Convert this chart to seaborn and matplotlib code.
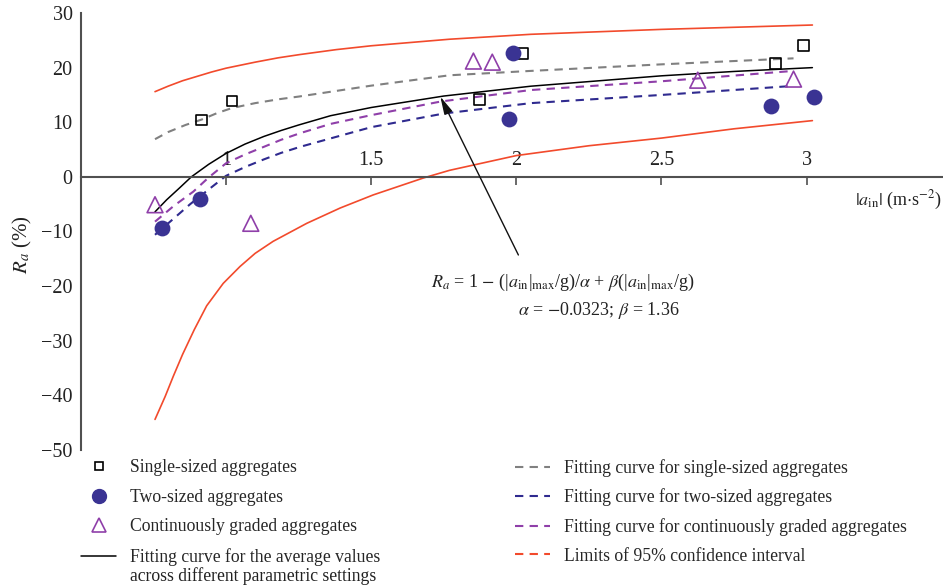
import numpy as np
import pandas as pd
import matplotlib
matplotlib.use('Agg')
import matplotlib.pyplot as plt
from matplotlib.lines import Line2D
import seaborn as sns

# measured points
single_x = [0.914, 1.02, 1.872, 2.02, 2.893, 2.99]
single_y = [10.4, 13.9, 14.1, 22.6, 20.7, 24.0]
two_x = [0.78, 0.91, 1.976, 1.99, 2.876, 3.024]
two_y = [-9.4, -4.0, 10.6, 22.7, 12.9, 14.7]
cont_x = [0.755, 1.085, 1.852, 1.917, 2.625, 2.955]
cont_y = [-5.1, -8.5, 21.2, 21.0, 17.7, 17.9]

# fitted curves
avg_x = [0.755, 0.795, 0.84, 0.88, 0.94, 1.0, 1.065, 1.13, 1.19, 1.25, 1.36, 1.5, 1.75, 2.05, 2.5, 2.75, 3.02]
avg_y = [-6.4, -4.2, -2.0, 0.0, 2.3, 4.3, 6.0, 7.4, 8.5, 9.5, 11.2, 12.7, 14.8, 16.6, 18.5, 19.3, 20.0]
fit_single_x = [0.755, 0.8, 0.86, 0.916, 0.97, 1.02, 1.1, 1.18, 1.25, 1.5, 1.77, 2.05, 2.5, 2.955]
fit_single_y = [6.9, 8.2, 9.5, 10.5, 11.7, 12.6, 13.5, 14.2, 14.7, 16.7, 18.6, 19.4, 20.6, 21.7]
fit_two_x = [0.755, 0.82, 0.876, 0.94, 1.0, 1.065, 1.13, 1.19, 1.255, 1.5, 1.75, 2.05, 2.5, 2.94]
fit_two_y = [-10.6, -7.6, -5.0, -2.3, 0.2, 1.8, 3.2, 4.4, 5.5, 9.1, 11.6, 13.5, 15.0, 16.6]
fit_cont_x = [0.755, 0.82, 0.887, 0.94, 1.0, 1.065, 1.13, 1.19, 1.255, 1.36, 1.5, 1.74, 2.05, 2.5, 2.955]
fit_cont_y = [-8.2, -5.3, -2.7, -0.1, 2.5, 4.1, 5.5, 6.8, 8.0, 9.7, 11.3, 13.8, 15.9, 17.5, 19.4]
ci_up_x = [0.755, 0.8, 0.85, 0.9, 0.95, 1.0, 1.1, 1.18, 1.255, 1.38, 1.5, 1.77, 2.05, 2.5, 3.02]
ci_up_y = [15.6, 16.6, 17.6, 18.4, 19.2, 19.9, 21.0, 21.8, 22.4, 23.3, 24.0, 25.2, 26.1, 27.0, 27.8]
ci_lo_x = [0.755, 0.79, 0.818, 0.85, 0.89, 0.933, 0.99, 1.048, 1.10, 1.162, 1.278, 1.393, 1.507,
           1.68, 1.77, 2.0, 2.25, 2.5, 2.75, 3.02]
ci_lo_y = [-44.4, -40.2, -36.5, -32.5, -28.0, -23.6, -19.5, -16.4, -14.0, -11.8, -8.5, -5.7, -3.3,
           -0.2, 1.2, 3.9, 5.7, 7.1, 8.8, 10.3]

x_ticks = [1, 1.5, 2, 2.5, 3]
x_tick_labels = ['1', '1.5', '2', '2.5', '3']
y_ticks = [-50, -40, -30, -20, -10, 0, 10, 20, 30]
y_tick_labels = ['\u221250', '\u221240', '\u221230', '\u221220', '\u221210', '0', '10', '20', '30']

sns.set_theme(style='white')
plt.rcParams['font.family'] = ['Liberation Serif', 'DejaVu Serif']
plt.rcParams['mathtext.fontset'] = 'stix'

c_gray = '#808080'
c_blue = '#2f2a8f'
c_purple = '#8f3fa9'
c_red = '#f24a2c'
c_dot = '#3a3393'
c_spine = '#505050'

fig = plt.figure(figsize=(9.43, 5.88), dpi=100)
ax = fig.add_axes([81 / 943, 1 - 450 / 588, 1 - 81 / 943, (450 - 13) / 588])

sns.lineplot(x=ci_up_x, y=ci_up_y, color=c_red, lw=1.2, ax=ax)
sns.lineplot(x=ci_lo_x, y=ci_lo_y, color=c_red, lw=1.2, ax=ax)
sns.lineplot(x=fit_single_x, y=fit_single_y, color=c_gray, lw=1.5, linestyle=(0, (4, 3)), ax=ax)
sns.lineplot(x=fit_two_x, y=fit_two_y, color=c_blue, lw=1.5, linestyle=(0, (4, 3)), ax=ax)
sns.lineplot(x=fit_cont_x, y=fit_cont_y, color=c_purple, lw=1.5, linestyle=(0, (4, 3)), ax=ax)
sns.lineplot(x=avg_x, y=avg_y, color='black', lw=1.1, ax=ax)

sns.scatterplot(x=single_x, y=single_y, marker='s', s=60, facecolor='none',
                edgecolor='black', linewidth=1.2, ax=ax, zorder=5)
sns.scatterplot(x=two_x, y=two_y, marker='o', s=130, color=c_dot,
                edgecolor=c_dot, linewidth=0, ax=ax, zorder=5)
sns.scatterplot(x=cont_x, y=cont_y, marker='^', s=130, facecolor='none',
                edgecolor=c_purple, linewidth=1.2, ax=ax, zorder=5)

ax.set_xlim(0.5, 3.47)
ax.set_ylim(-50, 30)

# axes: x spine on y=0, tick labels above it
ax.spines['right'].set_visible(False)
ax.spines['bottom'].set_visible(False)
ax.spines['top'].set_position(('data', 0))
ax.spines['top'].set_color(c_spine)
ax.spines['left'].set_color(c_spine)
ax.spines['top'].set_linewidth(1.5)
ax.spines['left'].set_linewidth(1.5)
ax.xaxis.tick_top()
ax.set_xticks(x_ticks)
ax.set_xticklabels(x_tick_labels)
ax.set_yticks(y_ticks)
ax.set_yticklabels(y_tick_labels)
ax.tick_params(axis='x', direction='in', length=6, width=1.2, color=c_spine,
               labelsize=14.5, pad=5, labelcolor='#222222')
ax.tick_params(axis='y', direction='in', length=6.5, width=1.2, color=c_spine,
               labelsize=14.5, pad=6, labelcolor='#222222')
ax.set_xlabel('')
ax.set_ylabel('')
ax.grid(False)

ax.text(3.465, -2.2, r'$|a_{\mathrm{in}}|$ (m$\cdot$s$^{-2}$)', ha='right', va='top',
        fontsize=13, color='#222222')
fig.text(22 / 943, 1 - 245 / 588, r'$R_a$ (%)', rotation=90, ha='center', va='center',
         fontsize=15, color='#222222')

ax.annotate('', xy=(1.738, 14.7), xytext=(2.007, -14.3),
            arrowprops=dict(arrowstyle='-|>,head_length=0.9,head_width=0.22',
                            color='#111111', lw=1.0, shrinkA=0, shrinkB=0))
ax.text(2.159, -20.1,
        r'$R_a$ = 1 $-$ (|$a_{\mathrm{in}}$|$_{\mathrm{max}}$/g)/$\alpha$ + $\beta$(|$a_{\mathrm{in}}$|$_{\mathrm{max}}$/g)',
        ha='center', va='baseline', fontsize=13, color='#222222')
ax.text(2.283, -25.2, r'$\alpha$ = $-$0.0323; $\beta$ = 1.36',
        ha='center', va='baseline', fontsize=13, color='#222222')

# legends
h1 = [Line2D([], [], marker='s', ls='none', mfc='none', mec='black', ms=6, mew=1.2),
      Line2D([], [], marker='o', ls='none', mfc=c_dot, mec=c_dot, ms=10),
      Line2D([], [], marker='^', ls='none', mfc='none', mec=c_purple, ms=10, mew=1.2),
      Line2D([], [], color='black', lw=1.1)]
l1 = ['Single-sized aggregates', 'Two-sized aggregates', 'Continuously graded aggregates',
      'Fitting curve for the average values']
h2 = [Line2D([], [], color=c_gray, lw=1.5, ls=(0, (4, 3))),
      Line2D([], [], color=c_blue, lw=1.5, ls=(0, (4, 3))),
      Line2D([], [], color=c_purple, lw=1.5, ls=(0, (4, 3))),
      Line2D([], [], color=c_red, lw=1.5, ls=(0, (4, 3)))]
l2 = ['Fitting curve for single-sized aggregates', 'Fitting curve for two-sized aggregates',
      'Fitting curve for continuously graded aggregates', 'Limits of 95% confidence interval']

common = dict(loc='upper left', frameon=False, fontsize=12.7, handlelength=2.0,
              handletextpad=0.8, borderpad=0, borderaxespad=0)
fig.legend(h1, l1, bbox_to_anchor=(81 / 943, 1 - 459 / 588), labelspacing=0.72, **common)
fig.legend(h2, l2, bbox_to_anchor=(515 / 943, 1 - 459 / 588), labelspacing=0.66, **common)
fig.text(130 / 943, 1 - 576 / 588, 'across different parametric settings', ha='left',
         va='center', fontsize=12.7, color='#222222')

fig.savefig('out.png', dpi=100)
